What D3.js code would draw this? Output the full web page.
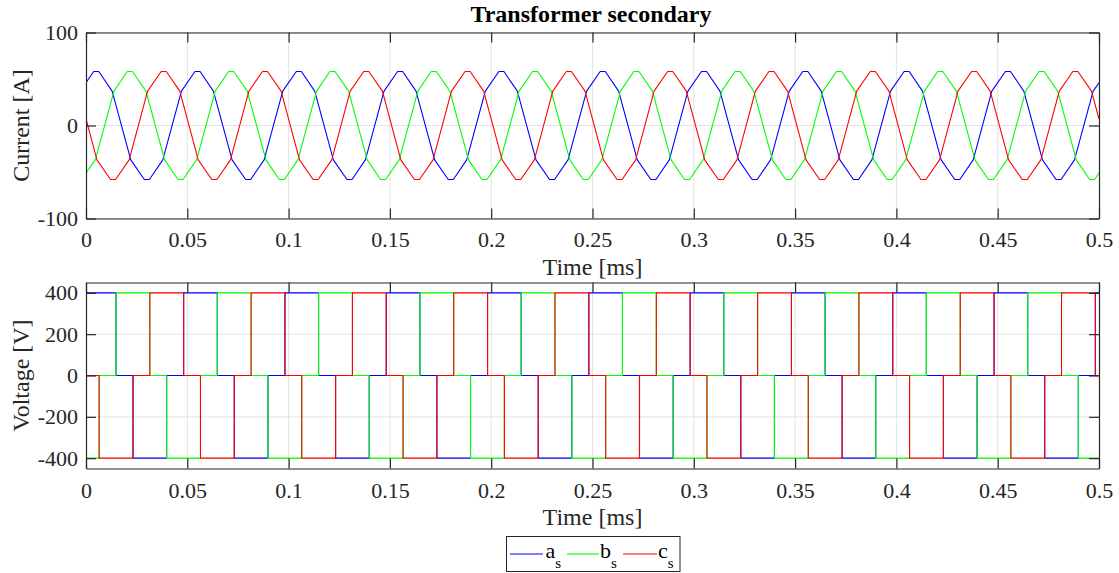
<!DOCTYPE html>
<html>
<head>
<meta charset="utf-8">
<script src="https://cdn.jsdelivr.net/npm/d3@7"></script>
<style>
  html, body { margin: 0; padding: 0; background: #fff; }
  svg { display: block; }
  svg text { font-family: "Liberation Serif", "Times New Roman", serif !important; }
</style>
</head>
<body>
<script>
// ---------------- DATA ----------------
const xTickValues = [0, 0.05, 0.1, 0.15, 0.2, 0.25, 0.3, 0.35, 0.4, 0.45, 0.5];
const xTickLabels = ["0", "0.05", "0.1", "0.15", "0.2", "0.25", "0.3", "0.35", "0.4", "0.45", "0.5"];
const currentTicks = [-100, 0, 100];
const currentTickLabels = ["-100", "0", "100"];
const voltageTicks = [-400, -200, 0, 200, 400];
const voltageTickLabels = ["-400", "-200", "0", "200", "400"];
const seriesNames = ["a", "b", "c"];
const seriesColors = ["#0000ff", "#00ff00", "#ff0000"];

// Phase currents [time ms, current A] (vertices of the waveforms)
const currentA = [
  [0,46],
  [0.0038,58],[0.0063,58],[0.0129,37],[0.0221,-37],[0.0288,-58],[0.0313,-58],[0.0379,-37],[0.0471,37],
  [0.0538,58],[0.0563,58],[0.0629,37],[0.0721,-37],[0.0788,-58],[0.0813,-58],[0.0879,-37],[0.0971,37],
  [0.1038,58],[0.1063,58],[0.1129,37],[0.1221,-37],[0.1288,-58],[0.1313,-58],[0.1379,-37],[0.1471,37],
  [0.1538,58],[0.1563,58],[0.1629,37],[0.1721,-37],[0.1788,-58],[0.1813,-58],[0.1879,-37],[0.1971,37],
  [0.2038,58],[0.2063,58],[0.2129,37],[0.2221,-37],[0.2288,-58],[0.2313,-58],[0.2379,-37],[0.2471,37],
  [0.2538,58],[0.2563,58],[0.2629,37],[0.2721,-37],[0.2788,-58],[0.2813,-58],[0.2879,-37],[0.2971,37],
  [0.3038,58],[0.3063,58],[0.3129,37],[0.3221,-37],[0.3288,-58],[0.3313,-58],[0.3379,-37],[0.3471,37],
  [0.3538,58],[0.3563,58],[0.3629,37],[0.3721,-37],[0.3788,-58],[0.3813,-58],[0.3879,-37],[0.3971,37],
  [0.4038,58],[0.4063,58],[0.4129,37],[0.4221,-37],[0.4288,-58],[0.4313,-58],[0.4379,-37],[0.4471,37],
  [0.4538,58],[0.4563,58],[0.4629,37],[0.4721,-37],[0.4788,-58],[0.4813,-58],[0.4879,-37],[0.4971,37],
  [0.5,46]
];
const currentB = [
  [0,-51],
  [0.0046,-37],[0.0138,37],[0.0204,58],[0.0229,58],[0.0296,37],[0.0388,-37],[0.0454,-58],[0.0479,-58],
  [0.0546,-37],[0.0638,37],[0.0704,58],[0.0729,58],[0.0796,37],[0.0888,-37],[0.0954,-58],[0.0979,-58],
  [0.1046,-37],[0.1138,37],[0.1204,58],[0.1229,58],[0.1296,37],[0.1388,-37],[0.1454,-58],[0.1479,-58],
  [0.1546,-37],[0.1638,37],[0.1704,58],[0.1729,58],[0.1796,37],[0.1888,-37],[0.1954,-58],[0.1979,-58],
  [0.2046,-37],[0.2138,37],[0.2204,58],[0.2229,58],[0.2296,37],[0.2388,-37],[0.2454,-58],[0.2479,-58],
  [0.2546,-37],[0.2638,37],[0.2704,58],[0.2729,58],[0.2796,37],[0.2888,-37],[0.2954,-58],[0.2979,-58],
  [0.3046,-37],[0.3138,37],[0.3204,58],[0.3229,58],[0.3296,37],[0.3388,-37],[0.3454,-58],[0.3479,-58],
  [0.3546,-37],[0.3638,37],[0.3704,58],[0.3729,58],[0.3796,37],[0.3888,-37],[0.3954,-58],[0.3979,-58],
  [0.4046,-37],[0.4138,37],[0.4204,58],[0.4229,58],[0.4296,37],[0.4388,-37],[0.4454,-58],[0.4479,-58],
  [0.4546,-37],[0.4638,37],[0.4704,58],[0.4729,58],[0.4796,37],[0.4888,-37],[0.4954,-58],[0.4979,-58],
  [0.5,-51]
];
const currentC = [
  [0,7],
  [0.0054,-37],[0.0121,-58],[0.0146,-58],[0.0213,-37],[0.0304,37],[0.0371,58],[0.0396,58],[0.0463,37],
  [0.0554,-37],[0.0621,-58],[0.0646,-58],[0.0713,-37],[0.0804,37],[0.0871,58],[0.0896,58],[0.0963,37],
  [0.1054,-37],[0.1121,-58],[0.1146,-58],[0.1213,-37],[0.1304,37],[0.1371,58],[0.1396,58],[0.1463,37],
  [0.1554,-37],[0.1621,-58],[0.1646,-58],[0.1713,-37],[0.1804,37],[0.1871,58],[0.1896,58],[0.1963,37],
  [0.2054,-37],[0.2121,-58],[0.2146,-58],[0.2213,-37],[0.2304,37],[0.2371,58],[0.2396,58],[0.2463,37],
  [0.2554,-37],[0.2621,-58],[0.2646,-58],[0.2713,-37],[0.2804,37],[0.2871,58],[0.2896,58],[0.2963,37],
  [0.3054,-37],[0.3121,-58],[0.3146,-58],[0.3213,-37],[0.3304,37],[0.3371,58],[0.3396,58],[0.3463,37],
  [0.3554,-37],[0.3621,-58],[0.3646,-58],[0.3713,-37],[0.3804,37],[0.3871,58],[0.3896,58],[0.3963,37],
  [0.4054,-37],[0.4121,-58],[0.4146,-58],[0.4213,-37],[0.4304,37],[0.4371,58],[0.4396,58],[0.4463,37],
  [0.4554,-37],[0.4621,-58],[0.4646,-58],[0.4713,-37],[0.4804,37],[0.4871,58],[0.4896,58],[0.4963,37],
  [0.5,7]
];

// Phase voltages: switching instants (ms) and level (V) held from each instant
const switchTimes = [0,
  0.0065,0.0148,0.0232,0.0315,0.0398,0.0482,
  0.0565,0.0648,0.0732,0.0815,0.0898,0.0982,
  0.1065,0.1148,0.1232,0.1315,0.1398,0.1482,
  0.1565,0.1648,0.1732,0.1815,0.1898,0.1982,
  0.2065,0.2148,0.2232,0.2315,0.2398,0.2482,
  0.2565,0.2648,0.2732,0.2815,0.2898,0.2982,
  0.3065,0.3148,0.3232,0.3315,0.3398,0.3482,
  0.3565,0.3648,0.3732,0.3815,0.3898,0.3982,
  0.4065,0.4148,0.4232,0.4315,0.4398,0.4482,
  0.4565,0.4648,0.4732,0.4815,0.4898,0.4982
];
const voltageA = [400,
  400,0,-400,-400,0,400, 400,0,-400,-400,0,400, 400,0,-400,-400,0,400, 400,0,-400,-400,0,400,
  400,0,-400,-400,0,400, 400,0,-400,-400,0,400, 400,0,-400,-400,0,400, 400,0,-400,-400,0,400,
  400,0,-400,-400,0,400, 400,0,-400,-400,0,400
];
const voltageB = [-400,
  0,400,400,0,-400,-400, 0,400,400,0,-400,-400, 0,400,400,0,-400,-400, 0,400,400,0,-400,-400,
  0,400,400,0,-400,-400, 0,400,400,0,-400,-400, 0,400,400,0,-400,-400, 0,400,400,0,-400,-400,
  0,400,400,0,-400,-400, 0,400,400,0,-400,-400
];
const voltageC = [0,
  -400,-400,0,400,400,0, -400,-400,0,400,400,0, -400,-400,0,400,400,0, -400,-400,0,400,400,0,
  -400,-400,0,400,400,0, -400,-400,0,400,400,0, -400,-400,0,400,400,0, -400,-400,0,400,400,0,
  -400,-400,0,400,400,0, -400,-400,0,400,400,0
];

// ---------------- DRAWING ----------------
const W = 1119, H = 573;
const FONT = '"Liberation Serif", "Times New Roman", serif';
const svg = d3.select("body").append("svg").attr("width", W).attr("height", H);
svg.append("rect").attr("width", W).attr("height", H).attr("fill", "#fff");

const left = 86, right = 1099;
const panels = [
  { top: 32.5, bottom: 218.5, domain: [-100, 100], ticks: currentTicks, tickLabels: currentTickLabels,
    label: "Current [A]", series: [currentA, currentB, currentC], step: false, tickBase: 28.5, xlabBase: 274.5 },
  { top: 282.5, bottom: 468.5, domain: [-450, 450], ticks: voltageTicks, tickLabels: voltageTickLabels,
    label: "Voltage [V]",
    series: [voltageA, voltageB, voltageC].map(lv => switchTimes.map((t, i) => [t, lv[i]]).concat([[0.5, lv[lv.length - 1]]])),
    step: true, tickBase: 29.5, xlabBase: 525 }
];

const x = d3.scaleLinear().domain([0, 0.5]).range([left, right]);
const axisColor = "#262626";

panels.forEach((p, pi) => {
  const y = d3.scaleLinear().domain(p.domain).range([p.bottom, p.top]);
  const g = svg.append("g");

  // grid
  g.append("g").selectAll("line").data(xTickValues.slice(1, -1)).join("line")
    .attr("x1", d => x(d)).attr("x2", d => x(d))
    .attr("y1", p.top).attr("y2", p.bottom)
    .attr("stroke", "#e3e3e3").attr("stroke-width", 1);
  g.append("g").selectAll("line").data(p.ticks).join("line")
    .attr("x1", left).attr("x2", right)
    .attr("y1", d => y(d)).attr("y2", d => y(d))
    .attr("stroke", "#e3e3e3").attr("stroke-width", 1);

  // clip
  const clipId = "clip" + pi;
  svg.append("clipPath").attr("id", clipId).append("rect")
    .attr("x", left).attr("y", p.top).attr("width", right - left).attr("height", p.bottom - p.top);

  const line = d3.line().x(d => x(d[0])).y(d => y(d[1]))
    .curve(p.step ? d3.curveStepAfter : d3.curveLinear);
  const lg = g.append("g").attr("clip-path", `url(#${clipId})`);
  p.series.forEach((s, si) => {
    lg.append("path").datum(s).attr("d", line)
      .attr("fill", "none").attr("stroke", seriesColors[si])
      .attr("stroke-width", 1.1).attr("stroke-linejoin", "round");
  });

  // axes
  const styleAxis = sel => {
    sel.attr("font-family", FONT).attr("font-size", 22);
    sel.select(".domain").attr("stroke", axisColor).attr("stroke-width", 1.2);
    sel.selectAll(".tick line").attr("stroke", axisColor).attr("stroke-width", 1.2);
    sel.selectAll(".tick text").attr("fill", axisColor)
      .attr("font-family", FONT).attr("font-size", 22);
  };
  g.append("g").attr("transform", `translate(0,${p.bottom})`)
    .call(d3.axisBottom(x).tickValues(xTickValues).tickFormat((d, i) => xTickLabels[i])
      .tickSize(-10).tickSizeOuter(0).tickPadding(p.tickBase - 15.6))
    .call(styleAxis);
  g.append("g").attr("transform", `translate(0,${p.top})`)
    .call(d3.axisTop(x).tickValues(xTickValues).tickFormat("").tickSize(-10).tickSizeOuter(0))
    .call(styleAxis);
  g.append("g").attr("transform", `translate(${left},0)`)
    .call(d3.axisLeft(y).tickValues(p.ticks).tickFormat((d, i) => p.tickLabels[i]).tickSize(-10).tickSizeOuter(0).tickPadding(8))
    .call(styleAxis);
  g.append("g").attr("transform", `translate(${right},0)`)
    .call(d3.axisRight(y).tickValues(p.ticks).tickFormat("").tickSize(-10).tickSizeOuter(0))
    .call(styleAxis);

  // labels
  g.append("text").attr("x", (left + right) / 2).attr("y", p.xlabBase)
    .attr("text-anchor", "middle").attr("fill", axisColor).attr("font-family", FONT).attr("font-size", 24).text("Time [ms]");
  g.append("text").attr("transform", `translate(28.5,${(p.top + p.bottom) / 2}) rotate(-90)`)
    .attr("text-anchor", "middle").attr("fill", axisColor).attr("font-family", FONT).attr("font-size", 24).text(p.label);
});

// title
svg.append("text").attr("x", 591).attr("y", 22).attr("text-anchor", "middle")
  .attr("font-family", FONT).attr("font-size", 24).attr("font-weight", "bold").attr("fill", "#000")
  .text("Transformer secondary");

// legend
const lgd = svg.append("g");
lgd.append("rect").attr("x", 506.5).attr("y", 536.5).attr("width", 173.5).attr("height", 35)
  .attr("fill", "#fff").attr("stroke", axisColor).attr("stroke-width", 1);
const legendItems = [
  { x1: 510, x2: 543, tx: 545.5 },
  { x1: 567, x2: 599, tx: 600 },
  { x1: 623, x2: 657, tx: 658 }
];
legendItems.forEach((it, i) => {
  lgd.append("line").attr("x1", it.x1).attr("x2", it.x2).attr("y1", 554).attr("y2", 554)
    .attr("stroke", seriesColors[i]).attr("stroke-width", 1.1);
  const t = lgd.append("text").attr("x", it.tx).attr("y", 558).attr("fill", "#000")
    .attr("font-family", FONT).attr("font-size", 22);
  t.append("tspan").text(seriesNames[i]);
  t.append("tspan").attr("dy", 10).attr("font-size", 15).text("s");
});
</script>
</body>
</html>
